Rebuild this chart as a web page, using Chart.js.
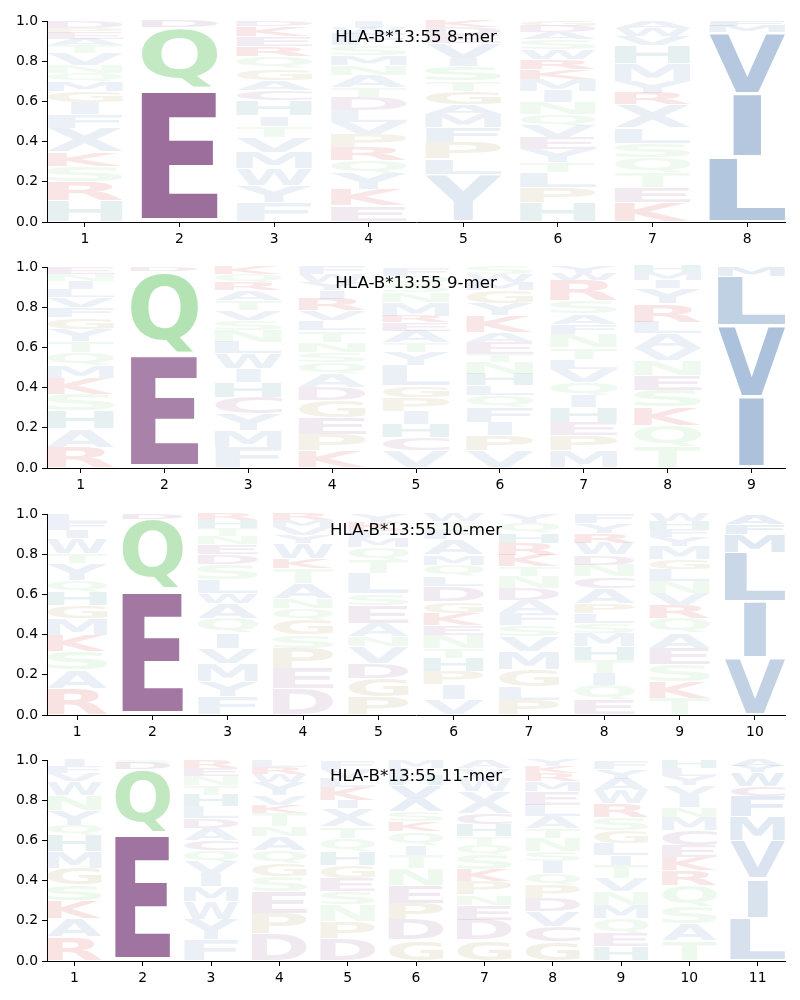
<!DOCTYPE html>
<html>
<head>
<meta charset="utf-8">
<script src="https://cdn.jsdelivr.net/npm/chart.js@4.4.0/dist/chart.umd.min.js"></script>
<style>
  body { margin: 0; background: #fff; width: 800px; height: 1000px; position: relative; overflow: hidden; }
  .panel { position: absolute; left: 0; width: 800px; height: 246px; }
</style>
</head>
<body>
<div class="panel" style="top:0px"><canvas id="logo8" width="800" height="246"></canvas></div>
<div class="panel" style="top:246px"><canvas id="logo9" width="800" height="246"></canvas></div>
<div class="panel" style="top:493px"><canvas id="logo10" width="800" height="246"></canvas></div>
<div class="panel" style="top:739px"><canvas id="logo11" width="800" height="246"></canvas></div>
<script>
// letters of each position, read bottom -> top, with their heights
const pos8 = [1, 2, 3, 4, 5, 6, 7, 8];
const letters8 = ["HRSKXFIGMQNVTAEPD", "EQD", "FYWMVTIHCAGQREKD", "EKYQRPVLDTANMSFWI",
  "YLPFMAGTSIVEDK", "HPLTYEVQNIMKRWSADG", "KETQSLXRYMHVWA", "LIVMF"];
const heights8 = [
  [.106, .094, .079, .069, .12, .066, .058, .058, .05, .04, .04, .058, .04, .03, .03, .025, .037],
  [.665, .305, .03],
  [.095, .085, .085, .08, .075, .058, .05, .075, .05, .05, .06, .06, .05, .05, .05, .027],
  [.08, .08, .08, .066, .066, .066, .058, .058, .066, .05, .058, .05, .05, .05, .058, .03, .03],
  [.238, .078, .079, .074, .066, .05, .066, .05, .074, .04, .074, .04, .04, .03],
  [.097, .074, .074, .05, .066, .058, .058, .058, .058, .058, .058, .05, .05, .05, .05, .035, .03, .029],
  [.097, .074, .074, .074, .074, .074, .116, .058, .058, .09, .09, .045, .04, .034],
  [.325, .315, .305, .03, .025]
];

const pos9 = [1, 2, 3, 4, 5, 6, 7, 8, 9];
const letters9 = ["RAHSKMQTYGFVLINE", "EQD", "FMYCHIWLNSVTARQK", "KPEGDAQSNTLVRIYWF",
  "VCHIPGLYTAERMNSQF", "VPIFQLHNTEAKYGMWS", "MPEHIQVLTNFASRWY", "TQKSENVALRYIMH", "IVLM"];
const heights9 = [
  [.103, .091, .091, .083, .079, .061, .066, .058, .058, .058, .05, .05, .04, .04, .035, .037],
  [.565, .415, .02],
  [.103, .083, .083, .083, .075, .066, .075, .058, .058, .05, .05, .05, .048, .04, .04, .038],
  [.086, .083, .083, .083, .066, .066, .058, .05, .05, .058, .05, .05, .058, .041, .04, .04, .04],
  [.086, .066, .066, .066, .066, .058, .1, .066, .05, .058, .041, .033, .066, .05, .04, .04, .04],
  [.086, .075, .066, .075, .058, .05, .058, .058, .041, .058, .05, .083, .058, .066, .04, .04, .04],
  [.086, .075, .066, .075, .058, .066, .066, .05, .058, .066, .05, .05, .066, .1, .035, .035],
  [.103, .108, .091, .083, .075, .075, .058, .075, .058, .091, .075, .04, .04, .031],
  [.355, .355, .245, .045]
];

const pos10 = [1, 2, 3, 4, 5, 6, 7, 8, 9, 10];
const letters10 = ["RASKMGHQYTWIFL", "EQD", "FYMVIQAWLSDENTHR", "DEPSGQNATKWYVMR",
  "PGDVNAESLTQMFKY", "VIPHTNEKGDLQMAFSW", "PLGMVSFADNTKRHQY", "EQITHMSLPACNDWRYF",
  "TKSEAQRVNLGMYFHW", "VILMFA"];
const heights10 = [
  [.132, .091, .091, .083, .083, .066, .066, .058, .083, .05, .074, .04, .04, .044],
  [.625, .35, .025],
  [.091, .075, .091, .075, .075, .075, .075, .05, .066, .075, .05, .05, .04, .04, .04, .037],
  [.132, .1, .1, .066, .075, .058, .05, .075, .075, .05, .075, .04, .04, .034, .03],
  [.091, .091, .075, .083, .05, .066, .09, .058, .1, .066, .066, .045, .04, .04, .04],
  [.075, .075, .066, .066, .05, .066, .05, .058, .058, .075, .05, .058, .05, .075, .045, .045, .042],
  [.075, .066, .083, .091, .075, .058, .058, .066, .058, .058, .05, .058, .058, .05, .05, .049],
  [.075, .075, .058, .066, .066, .066, .05, .05, .05, .075, .058, .058, .05, .058, .05, .05, .05],
  [.083, .083, .083, .083, .075, .075, .066, .058, .058, .058, .05, .066, .045, .04, .04, .04],
  [.285, .28, .245, .09, .05, .05]
];

const pos11 = [1, 2, 3, 4, 5, 6, 7, 8, 9, 10, 11];
const letters11 = ["RAKSGMHQYNWVFI", "EQDS", "FYWMIVQCADLHTNER", "DPESGQANTKVYWRL",
  "DPNSEGHQTXIKLVF", "GDPENTIQKSXHLM", "GDENPKSQTHCXWVA", "GCVDPQISNTALEMRKY",
  "HEQMNVTILGSRWAYF", "TASQRKECMNIVYLH", "LIVMFCWYA"];
const heights11 = [
  [.12, .091, .091, .075, .083, .083, .083, .05, .075, .075, .066, .04, .035, .033],
  [.635, .32, .03, .015],
  [.104, .1, .091, .075, .066, .058, .058, .05, .058, .05, .058, .058, .05, .045, .04, .041],
  [.137, .1, .108, .075, .066, .066, .066, .05, .066, .041, .05, .066, .04, .035, .034],
  [.113, .083, .083, .066, .066, .066, .066, .066, .058, .091, .041, .066, .045, .045, .044],
  [.104, .1, .083, .091, .083, .066, .05, .066, .05, .05, .132, .045, .04, .041],
  [.104, .1, .075, .05, .066, .058, .075, .05, .041, .058, .058, .108, .066, .05, .043],
  [.096, .075, .075, .066, .066, .058, .058, .05, .066, .05, .058, .058, .066, .05, .04, .035, .034],
  [.071, .066, .075, .066, .066, .066, .066, .05, .058, .066, .066, .066, .066, .058, .05, .044],
  [.1, .083, .083, .11, .075, .066, .058, .075, .066, .05, .058, .05, .045, .04, .041],
  [.215, .195, .19, .12, .1, .05, .07, .03, .03]
];

// residue colours (faded by height and column conservation)
const blue = [68, 116, 173], green = [104, 199, 104], purple = [124, 64, 124];
const red = [200, 20, 20], tan = [150, 130, 40], teal = [30, 120, 120];
const residueColor = {
  A: blue, V: blue, L: blue, I: blue, M: blue, F: blue, W: blue, Y: blue, X: blue,
  Q: green, N: green, S: green, T: green,
  D: purple, E: purple, C: purple,
  K: red, R: red, P: tan, G: tan, H: teal
};

const glyphFont = "bold 200px 'DejaVu Sans'";
const glyphCache = {};

function glyphBox(ctx, ch) {
  if (!glyphCache[ch]) {
    ctx.save();
    ctx.font = glyphFont;
    const m = ctx.measureText(ch);
    ctx.restore();
    glyphCache[ch] = {
      l: m.actualBoundingBoxLeft, r: m.actualBoundingBoxRight,
      a: m.actualBoundingBoxAscent, d: m.actualBoundingBoxDescent
    };
  }
  return glyphCache[ch];
}

// how conserved a column is -> how strongly its letters are coloured
function columnWeight(hs) {
  const tot = hs.reduce((a, b) => a + b, 0);
  let ent = 0;
  hs.forEach(h => { const p = h / tot; if (p > 0) ent -= p * Math.log2(p); });
  const ic = Math.log2(20) - ent;
  return Math.min(1, Math.max(0.2, ic / 2.5));
}

const logoPlugin = {
  id: 'logoLetters',
  afterDatasetsDraw(chart) {
    const ctx = chart.ctx;
    const meta = chart.getDatasetMeta(0);
    const raw = chart.data.datasets[0].data;
    const ref = glyphBox(ctx, 'E');
    meta.data.forEach((bar, i) => {
      const p = bar.getProps(['x', 'y', 'base', 'width'], true);
      const d = raw[i];
      const top = Math.min(p.y, p.base), bottom = Math.max(p.y, p.base);
      const pad = (bottom - top) * 0.03;
      const h = bottom - top - 2 * pad;
      if (h <= 0) return;
      const g = glyphBox(ctx, d.letter);
      const inkW = g.l + g.r;
      // narrow letters are not stretched more than an E
      const sx = Math.min(p.width / inkW, p.width / (ref.l + ref.r));
      const c = residueColor[d.letter] || blue;
      const alpha = Math.min(1, 0.09 + d.h * d.w);
      ctx.save();
      ctx.translate(p.x - inkW * sx / 2, bottom - pad);
      ctx.scale(sx, h / (g.a + g.d));
      ctx.font = glyphFont;
      ctx.textAlign = 'left';
      ctx.textBaseline = 'alphabetic';
      ctx.fillStyle = `rgba(${c[0]},${c[1]},${c[2]},${alpha})`;
      ctx.fillText(d.letter, g.l, -g.d);
      ctx.restore();
    });
  },
  afterDraw(chart, args, opts) {
    const ctx = chart.ctx;
    const area = chart.chartArea;
    ctx.save();
    ctx.font = "16.67px 'DejaVu Sans'";
    ctx.fillStyle = '#000';
    ctx.textAlign = 'center';
    ctx.textBaseline = 'alphabetic';
    ctx.fillText(opts.title, (area.left + area.right) / 2, area.top + 0.1 * (area.bottom - area.top) + 1);
    ctx.restore();
  }
};

const tickFont = { family: 'DejaVu Sans', size: 13.9 };

function makeLogo(id, positions, letters, heights, title) {
  const points = [];
  positions.forEach((pos, i) => {
    const w = columnWeight(heights[i]);
    let lo = 0;
    heights[i].forEach((h, j) => {
      points.push({ x: pos, y: [lo, lo + h], letter: letters[i][j], h: h, w: w });
      lo += h;
    });
  });

  return new Chart(document.getElementById(id), {
    type: 'bar',
    data: {
      datasets: [{
        data: points,
        backgroundColor: 'rgba(0,0,0,0)',
        borderWidth: 0,
        barPercentage: 0.8,
        categoryPercentage: 1
      }]
    },
    options: {
      responsive: false,
      animation: false,
      events: [],
      layout: { padding: { top: 21, right: 15, left: 0, bottom: 0 } },
      plugins: {
        legend: { display: false },
        tooltip: { enabled: false },
        logoLetters: { title: title }
      },
      scales: {
        x: {
          type: 'linear',
          min: positions[0] - 0.4,
          max: positions[positions.length - 1] + 0.4,
          offset: false,
          afterBuildTicks: axis => { axis.ticks = positions.map(v => ({ value: v })); },
          afterFit: axis => { axis.height = 24; },
          ticks: { font: tickFont, color: '#000', padding: 4, maxRotation: 0, autoSkip: false,
                   callback: v => String(v) },
          grid: { display: true, drawOnChartArea: false, drawTicks: true, tickLength: 5, color: '#000', offset: false },
          border: { display: true, color: '#000', width: 1 }
        },
        y: {
          min: 0,
          max: 1,
          afterFit: axis => { axis.width = 47; },
          ticks: { stepSize: 0.2, font: tickFont, color: '#000', padding: 4,
                   callback: v => Number(v).toFixed(1) },
          grid: { display: true, drawOnChartArea: false, drawTicks: true, tickLength: 5, color: '#000' },
          border: { display: true, color: '#000', width: 1 }
        }
      }
    },
    plugins: [logoPlugin]
  });
}

makeLogo('logo8', pos8, letters8, heights8, 'HLA-B*13:55 8-mer');
makeLogo('logo9', pos9, letters9, heights9, 'HLA-B*13:55 9-mer');
makeLogo('logo10', pos10, letters10, heights10, 'HLA-B*13:55 10-mer');
makeLogo('logo11', pos11, letters11, heights11, 'HLA-B*13:55 11-mer');
</script>
</body>
</html>
